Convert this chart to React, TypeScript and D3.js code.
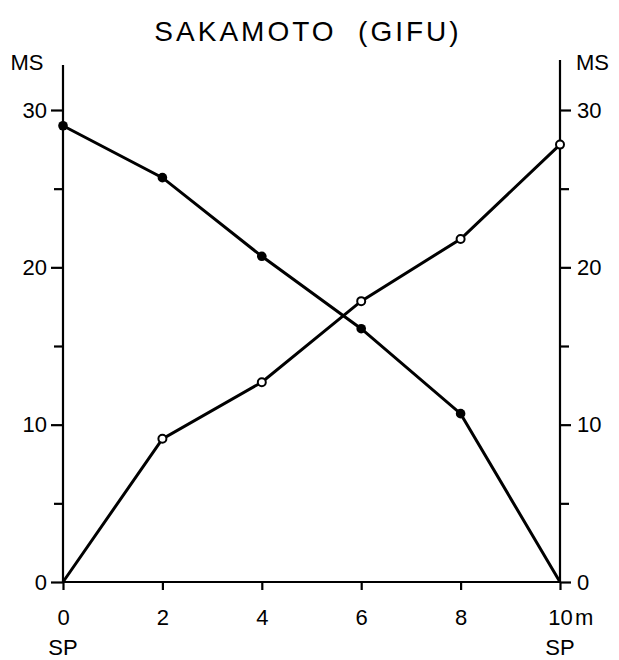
import { useRef, useEffect } from 'react';
import * as d3 from 'd3';

// distance along the line (m)
const distances = [0, 2, 4, 6, 8, 10];
// MS values, solid dots (left to right decreasing)
const filledValues = [29.0, 25.7, 20.7, 16.1, 10.7, 0];
// MS values, open dots
const openValues = [0, 9.1, 12.7, 17.85, 21.8, 27.8];

const yTicks = [0, 5, 10, 15, 20, 25, 30];
const xTicks = [0, 2, 4, 6, 8, 10];

const width = 619;
const height = 660;
const font = "'Liberation Sans', Arial, sans-serif";
const fs = 22;

function App() {
  const svgRef = useRef<SVGSVGElement | null>(null);

  useEffect(() => {
    const svg = d3.select(svgRef.current);
    svg.selectAll('*').remove();

    const margin = { left: 63, right: 59, top: 63, bottom: 78 };

    const x = d3
      .scaleLinear()
      .domain([0, 10])
      .range([margin.left, width - margin.right]);

    const y = d3
      .scaleLinear()
      .domain([0, 30])
      .range([height - margin.bottom, 110]);

    svg
      .append('text')
      .attr('x', 308)
      .attr('y', 41)
      .attr('text-anchor', 'middle')
      .style('font', `28px ${font}`)
      .style('letter-spacing', '3px')
      .style('white-space', 'pre')
      .text('SAKAMOTO  (GIFU)');

    const styleAxis = (g: any) => {
      g.select('.domain').remove();
      g.selectAll('.tick line').attr('stroke', '#000').attr('stroke-width', 2.2);
      g.selectAll('.tick text')
        .attr('fill', '#000')
        .style('font', `${fs}px ${font}`);
    };

    const fmt = (d: any) => (d % 10 === 0 ? `${d}` : '');

    // left axis
    svg
      .append('line')
      .attr('x1', x(0))
      .attr('x2', x(0))
      .attr('y1', margin.top + 2)
      .attr('y2', y(0))
      .attr('stroke', '#000')
      .attr('stroke-width', 2.2);
    svg
      .append('g')
      .attr('transform', `translate(${x(0)},0)`)
      .call(d3.axisLeft(y).tickValues(yTicks).tickFormat(fmt).tickSize(12).tickPadding(4))
      .call(styleAxis)
      .call((g: any) =>
        g.selectAll('.tick line').attr('x2', (d: number) => (d % 10 === 0 ? -12 : -9))
      );

    // right axis
    svg
      .append('line')
      .attr('x1', x(10))
      .attr('x2', x(10))
      .attr('y1', margin.top - 3)
      .attr('y2', y(0))
      .attr('stroke', '#000')
      .attr('stroke-width', 2.2);
    svg
      .append('g')
      .attr('transform', `translate(${x(10)},0)`)
      .call(d3.axisRight(y).tickValues(yTicks).tickFormat(fmt).tickSize(11).tickPadding(6))
      .call(styleAxis)
      .call((g: any) =>
        g.selectAll('.tick line').attr('x2', (d: number) => (d % 10 === 0 ? 11 : 9))
      );

    // bottom axis
    svg
      .append('line')
      .attr('x1', x(0))
      .attr('x2', x(10))
      .attr('y1', y(0))
      .attr('y2', y(0))
      .attr('stroke', '#000')
      .attr('stroke-width', 2.2);
    svg
      .append('g')
      .attr('transform', `translate(0,${y(0)})`)
      .call(
        d3
          .axisBottom(x)
          .tickValues(xTicks)
          .tickFormat((d: any) => `${d}`)
          .tickSize(8)
          .tickPadding(19)
      )
      .call(styleAxis);

    svg
      .append('text')
      .attr('x', x(10) + 15)
      .attr('y', y(0) + 8 + 19 + 0.71 * fs)
      .style('font', `${fs}px ${font}`)
      .text('m');

    svg
      .append('text')
      .attr('x', 27)
      .attr('y', 70)
      .attr('text-anchor', 'middle')
      .style('font', `${fs}px ${font}`)
      .text('MS');
    svg
      .append('text')
      .attr('x', 576)
      .attr('y', 70)
      .style('font', `${fs}px ${font}`)
      .text('MS');

    [0, 10].forEach((d) => {
      svg
        .append('text')
        .attr('x', x(d))
        .attr('y', y(0) + 73)
        .attr('text-anchor', 'middle')
        .style('font', `${fs}px ${font}`)
        .text('SP');
    });

    const line = d3
      .line<number>()
      .x((_, i) => x(distances[i]))
      .y((d) => y(d));

    [filledValues, openValues].forEach((vals) => {
      svg
        .append('path')
        .datum(vals)
        .attr('fill', 'none')
        .attr('stroke', '#000')
        .attr('stroke-width', 3)
        .attr('d', line);
    });

    svg
      .append('g')
      .selectAll('circle')
      .data(filledValues.slice(0, 5))
      .join('circle')
      .attr('cx', (_, i) => x(distances[i]))
      .attr('cy', (d) => y(d))
      .attr('r', 4.8)
      .attr('fill', '#000');

    svg
      .append('g')
      .selectAll('circle')
      .data(openValues.slice(1))
      .join('circle')
      .attr('cx', (_, i) => x(distances[i + 1]))
      .attr('cy', (d) => y(d))
      .attr('r', 4)
      .attr('fill', '#fff')
      .attr('stroke', '#000')
      .attr('stroke-width', 2);
  }, []);

  return (
    <svg
      ref={svgRef}
      width={width}
      height={height}
      style={{ position: 'absolute', left: 0, top: 0, background: '#fff' }}
    />
  );
}

export default App;
